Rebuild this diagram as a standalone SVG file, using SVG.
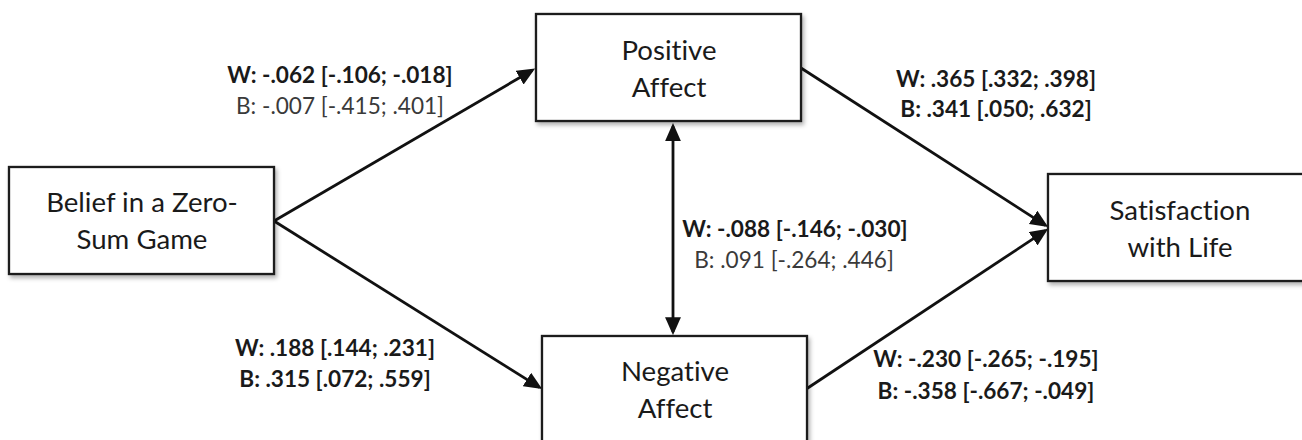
<svg xmlns="http://www.w3.org/2000/svg" width="1302" height="440" viewBox="0 0 1302 440">
<style>
.box{fill:#ffffff;stroke:#1a1a1a;stroke-width:2.3;filter:url(#sh)}
text{font-variant-ligatures:none;font-feature-settings:"liga" 0}
.nt{font-family:Lato,"Open Sans","DejaVu Sans",sans-serif;font-size:27.6px;fill:#1a1a1a;text-anchor:middle}
.lb{font-family:Lato,"Open Sans","DejaVu Sans",sans-serif;font-size:22.6px;font-weight:bold;fill:#1a1a1a;text-anchor:middle}
.lr{font-family:Lato,"Open Sans","DejaVu Sans",sans-serif;font-size:22.6px;fill:#3a3a3a;text-anchor:middle}
.ar{fill:none;stroke:#111;stroke-width:2.8;marker-end:url(#ah)}
</style>
<defs>
<filter id="sh" x="-10%" y="-10%" width="130%" height="140%">
<feDropShadow dx="2" dy="3" stdDeviation="2" flood-color="#000" flood-opacity="0.3"/>
</filter>
<marker id="ah" markerUnits="userSpaceOnUse" markerWidth="18" markerHeight="16" viewBox="0 0 17 15" refX="14" refY="7.5" orient="auto-start-reverse">
<path d="M0,0 L17,7.5 L0,15 z" fill="#111"/>
</marker>
</defs>
<rect width="1302" height="440" fill="#ffffff"/>
<g id="connectors">
<line class="ar" x1="274" y1="221" x2="532.4" y2="70.2"/>
<line class="ar" x1="274" y1="221" x2="539.5" y2="387.4"/>
<line class="ar" x1="801" y1="68" x2="1045.5" y2="225.4"/>
<line class="ar" x1="807" y1="388.5" x2="1045.5" y2="230.6"/>
<line class="ar" x1="673" y1="126.3" x2="673" y2="332" marker-start="url(#ah)"/>
</g>
<g id="belief">
<rect class="box" x="9" y="167" width="265" height="107"/>
<text class="nt" x="142" y="212">Belief in a Zero-</text>
<text class="nt" x="142" y="249">Sum Game</text>
</g>
<g id="positive">
<rect class="box" x="536" y="14" width="265" height="107"/>
<text class="nt" x="669" y="60">Positive</text>
<text class="nt" x="669" y="97">Affect</text>
</g>
<g id="negative">
<rect class="box" x="542" y="336" width="265" height="107"/>
<text class="nt" x="675" y="381">Negative</text>
<text class="nt" x="675" y="418">Affect</text>
</g>
<g id="satisfaction">
<rect class="box" x="1048" y="174" width="265" height="107"/>
<text class="nt" x="1180" y="220">Satisfaction</text>
<text class="nt" x="1180" y="257">with Life</text>
</g>
<g id="labels">
<text class="lb" x="340" y="83">W: -.062 [-.106; -.018]</text>
<text class="lr" x="340" y="114">B: -.007 [-.415; .401]</text>
<text class="lb" x="996" y="87">W: .365 [.332; .398]</text>
<text class="lb" x="996" y="117">B: .341 [.050; .632]</text>
<text class="lb" x="795" y="237">W: -.088 [-.146; -.030]</text>
<text class="lr" x="794" y="268">B: .091 [-.264; .446]</text>
<text class="lb" x="335" y="356">W: .188 [.144; .231]</text>
<text class="lb" x="335" y="387">B: .315 [.072; .559]</text>
<text class="lb" x="986" y="367">W: -.230 [-.265; -.195]</text>
<text class="lb" x="986" y="399">B: -.358 [-.667; -.049]</text>
</g>
</svg>
